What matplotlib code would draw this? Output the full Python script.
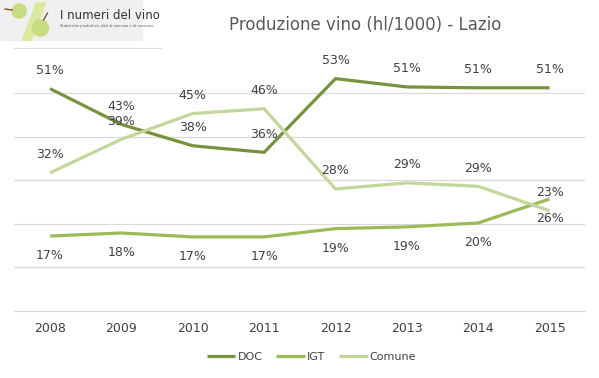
import numpy as np
import matplotlib
matplotlib.use("Agg")
import matplotlib.pyplot as plt
from matplotlib.patches import Circle, Polygon, Rectangle

# data (share of production)
years = ["2008", "2009", "2010", "2011", "2012", "2013", "2014", "2015"]
doc = [0.510, 0.428, 0.379, 0.364, 0.533, 0.514, 0.512, 0.512]
igt = [0.172, 0.179, 0.170, 0.170, 0.189, 0.193, 0.202, 0.257]
comune = [0.317, 0.394, 0.453, 0.464, 0.280, 0.294, 0.286, 0.230]

series = [
    ("DOC", doc, "#76923C", "above"),
    ("IGT", igt, "#9BBB59", "below"),
    ("Comune", comune, "#C3D69B", "above"),
]

fig = plt.figure(figsize=(5.99, 3.78), dpi=100)
ax = fig.add_axes([0.024, 0.1772, 0.953, 0.692])
x = np.arange(len(years))

for name, vals, col, pos in series:
    ax.plot(x, vals, color=col, linewidth=2.3, label=name, solid_capstyle="butt")
    for xi, v in zip(x, vals):
        off = 13 if pos == "above" else -14
        ax.annotate(f"{v * 100:.0f}%", (xi, v), xytext=(0, off),
                    textcoords="offset points", ha="center", va="center",
                    fontsize=9, color="#404040")

ax.set_xlim(-0.5, len(years) - 0.5)
ax.set_ylim(0, 0.6)
for g in [0.1, 0.2, 0.3, 0.4, 0.5]:
    ax.axhline(g, color="#D9D9D9", linewidth=0.9, zorder=0)
ax.set_yticks([])
ax.set_xticks(x)
ax.set_xticklabels(years, fontsize=9, color="#404040")
ax.tick_params(axis="x", length=0, pad=8)
for s in ["top", "left", "right"]:
    ax.spines[s].set_visible(False)
ax.spines["bottom"].set_color("#D9D9D9")

fig.text(0.61, 0.935, "Produzione vino (hl/1000) - Lazio", ha="center", va="center",
         fontsize=12, color="#595959")

fig.legend(loc="center", bbox_to_anchor=(0.52, 0.055), ncol=3, frameon=False,
           fontsize=8, handlelength=2.6, handletextpad=0.2, columnspacing=1.2,
           labelcolor="#404040")

# logo in the top-left corner
lg = fig.add_axes([0, 0.87, 0.27, 0.13])
lg.set_xlim(0, 160)
lg.set_ylim(49, 0)
lg.axis("off")
lg.add_patch(Rectangle((0, 0), 140, 40, color="#F0F0F0", zorder=0))
lg.add_patch(Polygon([[22, 40], [31, 40], [45, 3], [36, 3]], color="#D9EA9C", zorder=1))
lg.add_patch(Circle((19, 11), 7, color="#C9DC84", zorder=2))
lg.add_patch(Circle((40, 28), 8, color="#C9DC84", zorder=2))
lg.plot([5, 12], [9, 10], color="#7A5A2A", linewidth=1)
lg.plot([43, 47], [20, 13], color="#7A5A2A", linewidth=1)
lg.text(59, 15, "I numeri del vino", fontsize=8.5, color="#333333", va="center")
lg.text(59, 26, "Statistiche produttive, dati di mercato e di consumo.", fontsize=2.5,
        color="#555555", va="center")
lg.plot([14, 160], [48, 48], color="#DDDDDD", linewidth=0.8)

fig.savefig("out.png", dpi=100)
